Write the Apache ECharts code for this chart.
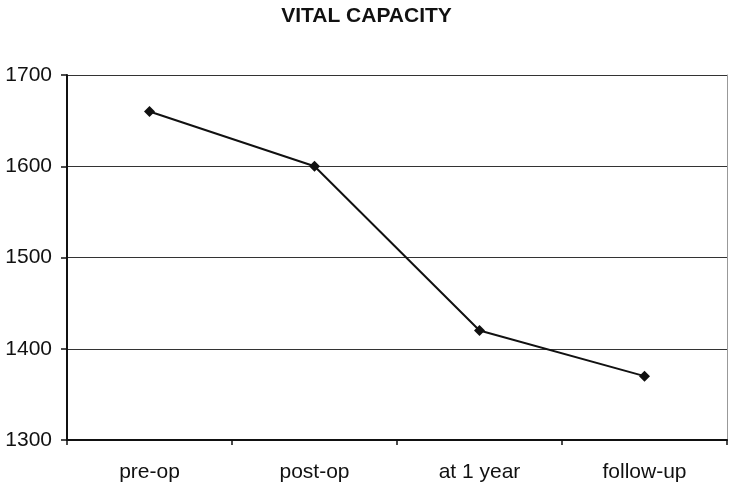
<!DOCTYPE html>
<html><head><meta charset="utf-8">
<script src="https://cdn.jsdelivr.net/npm/echarts@6/dist/echarts.min.js"></script>
<style>html,body{margin:0;padding:0;background:#fff}#c{width:733px;height:488px}</style>
</head><body><div id="c"></div>
<script>
var titleText = 'VITAL CAPACITY';
var categories = ['pre-op', 'post-op', 'at 1 year', 'follow-up'];
var values = [1660, 1600, 1420, 1370];
var yMin = 1300, yMax = 1700, yStep = 100;

var chart = echarts.init(document.getElementById('c'));
chart.setOption({
  animation: false,
  backgroundColor: '#fff',
  title: {
    text: titleText, left: 'center', top: 1,
    textStyle: { fontFamily: 'Liberation Sans', fontSize: 21, fontWeight: 'bold', color: '#111' }
  },
  grid: { left: 67, right: 6, top: 75, bottom: 48, containLabel: false },
  xAxis: {
    type: 'category', data: categories, boundaryGap: true,
    axisLine: { lineStyle: { color: '#111', width: 2 } },
    axisTick: { show: true, length: 5, lineStyle: { color: '#111', width: 1.5 } },
    axisLabel: { fontFamily: 'Liberation Sans', fontSize: 21, color: '#111', margin: 22 },
    splitLine: { show: false }
  },
  yAxis: [{
    type: 'value', min: yMin, max: yMax, interval: yStep,
    axisLine: { show: true, lineStyle: { color: '#111', width: 2 } },
    axisTick: { show: true, length: 6, lineStyle: { color: '#111', width: 1.5 } },
    axisLabel: { fontFamily: 'Liberation Sans', fontSize: 21, color: '#111', margin: 15,
      formatter: function (v) { return String(v); } },
    splitLine: { show: true, lineStyle: { color: '#333', width: 1 } }
  }, {
    type: 'value', min: yMin, max: yMax, interval: yStep, position: 'right',
    axisLine: { show: true, lineStyle: { color: '#999', width: 1 } },
    axisTick: { show: false }, axisLabel: { show: false }, splitLine: { show: false }
  }],
  series: [{
    type: 'line', data: values, yAxisIndex: 0,
    symbol: 'diamond', symbolSize: 11,
    lineStyle: { color: '#111', width: 2 },
    itemStyle: { color: '#111' }
  }]
});
</script></body></html>
